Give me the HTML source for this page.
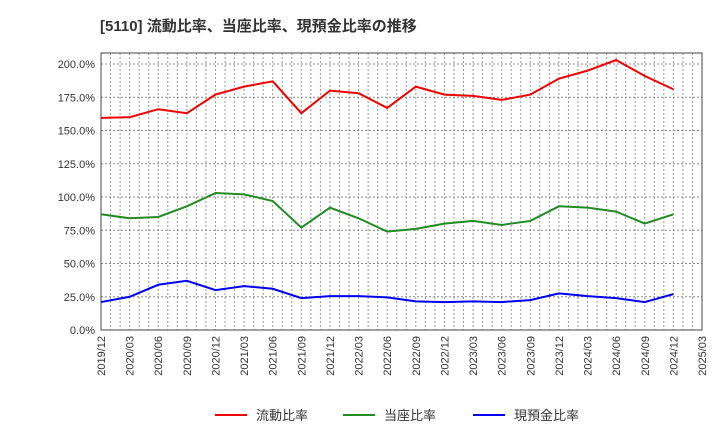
<!DOCTYPE html>
<html><head><meta charset="utf-8"><style>
body{margin:0;background:#fff;font-family:"Liberation Sans","Noto Sans CJK JP",sans-serif}
svg text{font-family:"Liberation Sans","Noto Sans CJK JP",sans-serif}
</style></head><body>
<svg id="c" width="720" height="440" xmlns="http://www.w3.org/2000/svg">
<text x="100" y="31" font-size="15" font-weight="bold" fill="#333">[5110]  流動比率、当座比率、現預金比率の推移</text>
<g id="grid"></g><g id="axes"></g><g id="series"></g><g id="legend"></g>
</svg>
<script>
const xLabels=["2019/12","2020/03","2020/06","2020/09","2020/12","2021/03","2021/06","2021/09","2021/12","2022/03","2022/06","2022/09","2022/12","2023/03","2023/06","2023/09","2023/12","2024/03","2024/06","2024/09","2024/12","2025/03"];
const yTicks=[0,25,50,75,100,125,150,175,200];
const currentRatio=[159.5,160,166,163,177,183,187,163,180,178,167,183,177,176,173,177,189,195,203,191,181];
const quickRatio=[87,84,85,93,103,102,97,77,92,84,74,76,80,82,79,82,93,92,89,80,87];
const cashRatio=[21,25,34,37,30,33,31,24,25.5,25.5,24.5,21.5,21,21.5,21,22.5,27.5,25.5,24,21,27];
const seriesNames=["流動比率","当座比率","現預金比率"];
const colors=["#f00000","#228b22","#0000f0"];
const L=101,R=702,T=53,B=330;
const xs=i=>L+(R-L)*i/(xLabels.length-1);
const ys=v=>B-(B-64)*v/200;
const NS="http://www.w3.org/2000/svg";
function mk(tag,attrs,parent){const e=document.createElementNS(NS,tag);for(const k in attrs)e.setAttribute(k,attrs[k]);parent.appendChild(e);return e;}
const grid=document.getElementById('grid'),axes=document.getElementById('axes'),ser=document.getElementById('series'),leg=document.getElementById('legend');
for(let m=1;m<(xLabels.length-1)*3;m++){const x=L+(R-L)*m/((xLabels.length-1)*3);
 const l=mk('line',{x1:x,x2:x,y1:T,y2:B,stroke:'#999','stroke-dasharray':'2,2','stroke-width':1},grid);
 
 }
yTicks.forEach(v=>{const y=ys(v);
 const l=mk('line',{x1:L,x2:R,y1:y,y2:y,stroke:'#888','stroke-dasharray':'2,2','stroke-width':1},grid);
 
 
 const t=mk('text',{x:L-6,y:y+4,'font-size':11,'text-anchor':'end',fill:'#333'},axes);t.textContent=v.toFixed(1)+'%';
 
 });
xLabels.forEach((s,i)=>{const x=xs(i);
 const t=mk('text',{x:x+4,y:B+6,'font-size':11,'text-anchor':'end',fill:'#333',transform:`rotate(-90 ${x+4} ${B+6})`},axes);t.textContent=s;
 
 });
const fr=mk('rect',{x:L,y:T,width:R-L,height:B-T,fill:'none',stroke:'#444','stroke-width':1},axes);


[currentRatio,quickRatio,cashRatio].forEach((d,k)=>{
 const p=mk('polyline',{points:d.map((v,i)=>xs(i)+','+ys(v)).join(' '),fill:'none',stroke:colors[k],'stroke-width':2},ser);
 
 
 const lx=[215,343,473][k];
 const g=mk('g',{},leg);
 
 
 mk('line',{x1:lx,x2:lx+32,y1:415,y2:415,stroke:colors[k],'stroke-width':2},g);
 const t=mk('text',{x:lx+41,y:420,'font-size':13,fill:'#333'},g);t.textContent=seriesNames[k];
});
</script>
</body></html>
